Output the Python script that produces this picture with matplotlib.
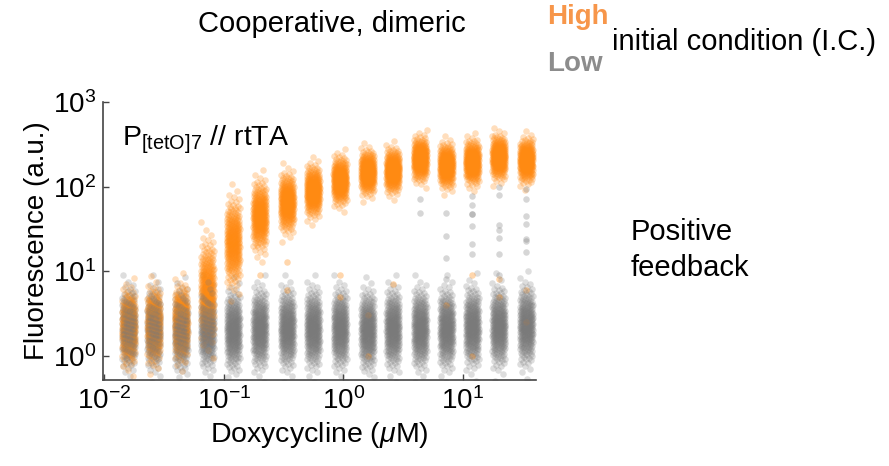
import numpy as np
import matplotlib; matplotlib.use("Agg")
import matplotlib.pyplot as plt
from matplotlib.ticker import LogLocator, NullLocator
from statistics import NormalDist

# doxycycline doses (uM), one jittered column of cells per dose
doses = [0.016, 0.026, 0.044, 0.073, 0.12, 0.20, 0.34, 0.56, 0.94,
         1.6, 2.6, 4.4, 7.3, 12, 20, 34]
# High initial condition: median fluorescence and log10 spread per dose
high_median = [2.2, 2.3, 2.5, 6.0, 22, 45, 65, 89, 118, 148, 155, 213, 178, 195, 224, 204]
high_spread = [0.20, 0.20, 0.20, 0.28, 0.24, 0.19, 0.16, 0.14, 0.13, 0.12, 0.12,
               0.12, 0.12, 0.12, 0.12, 0.12]
# Low initial condition
low_median = [2.1, 2.1, 2.0, 2.1, 2.0, 2.1, 2.1, 2.1, 2.1, 2.0, 2.1, 2.1, 2.1, 2.2, 2.2, 2.3]
low_spread = [0.22] * 16
# sparse cells away from their population (dose index, fluorescence)
low_outliers = [(11, 71), (11, 49), (12, 49), (12, 26), (12, 14.5), (12, 8),
                (13, 78), (13, 60), (13, 47), (13, 47), (13, 34), (13, 21), (13, 16),
                (14, 100), (14, 80), (14, 35), (14, 31), (14, 25), (14, 16), (14, 9),
                (15, 95), (15, 72), (15, 45), (15, 36), (15, 24), (15, 23), (15, 17)]
high_outliers = [(5, 9), (6, 13), (6, 6), (8, 9), (8, 5), (9, 3), (9, 1.0), (10, 7),
                 (12, 4), (13, 9), (13, 1.0), (14, 8), (14, 5), (15, 6), (15, 2.5)]
n_cells = 260

ORANGE, GRAY = "#ff8a12", "#7a7a7a"

plt.rcParams["font.family"] = ["Liberation Sans", "DejaVu Sans"]
plt.rcParams["mathtext.fontset"] = "custom"
plt.rcParams["mathtext.rm"] = "Liberation Sans"
plt.rcParams["mathtext.it"] = "Liberation Sans:italic"


def cloud(dose, median, spread, k):
    # spread cells over normal quantiles, jittered sideways in log-x
    q = (np.arange(n_cells) + 0.5) / n_cells
    z = np.array([NormalDist().inv_cdf(v) for v in q])
    u = ((np.arange(n_cells) * 0.6180339887 + 0.37 * k) % 1.0) * 2 - 1
    return dose * 10 ** (0.055 * u), median * 10 ** (spread * z)


fig = plt.figure(figsize=(8.89, 4.66), dpi=100)
ax = fig.add_axes([0.116, 0.185, 0.487, 0.596])

low = [cloud(d, low_median[k], low_spread[k], k) for k, d in enumerate(doses)]
# most low cells under the high ones, a third on top, so both show through
for x, y in low:
    keep = np.arange(n_cells) % 3 != 0
    ax.scatter(x[keep], y[keep], s=22, color=GRAY, alpha=0.25, lw=0)
for k, d in enumerate(doses):
    x, y = cloud(d, high_median[k], high_spread[k], k + 5)
    ax.scatter(x, y, s=22, color=ORANGE, alpha=0.28, lw=0)
ox = [doses[i] for i, _ in high_outliers]
oy = [v for _, v in high_outliers]
ax.scatter(ox, oy, s=22, color=ORANGE, alpha=0.35, lw=0)
for x, y in low:
    ax.scatter(x[::3], y[::3], s=22, color=GRAY, alpha=0.25, lw=0)
ox = [doses[i] for i, _ in low_outliers]
oy = [v for _, v in low_outliers]
ax.scatter(ox, oy, s=22, color=GRAY, alpha=0.3, lw=0)

ax.set_xscale("log"); ax.set_yscale("log")
ax.set_xlim(0.0098, 41); ax.set_ylim(0.52, 1000)
ax.xaxis.set_major_locator(LogLocator(base=10, numticks=10))
ax.yaxis.set_major_locator(LogLocator(base=10, numticks=10))
ax.xaxis.set_minor_locator(NullLocator()); ax.yaxis.set_minor_locator(NullLocator())
for s in ("top", "right"):
    ax.spines[s].set_visible(False)
for s in ("left", "bottom"):
    ax.spines[s].set_color("#444444"); ax.spines[s].set_linewidth(1.2)
ax.tick_params(direction="in", length=4, width=1, colors="#444444",
               labelcolor="black", labelsize=20, pad=5)
ax.set_xlabel(r"Doxycycline ($\mu$M)", fontsize=20.5, labelpad=4)
ax.set_ylabel("Fluorescence (a.u.)", fontsize=20, labelpad=2)

fig.text(0.137, 0.70, r"P$_{\mathregular{[tetO]7}}$ // rtTA", fontsize=20.5, va="center")
fig.text(0.223, 0.948, "Cooperative, dimeric", fontsize=21, va="center")
fig.text(0.615, 0.9635, "High", fontsize=20, weight="bold", color="#f7964a", va="center")
fig.text(0.615, 0.863, "Low", fontsize=20, weight="bold", color="#8c8c8c", va="center")
fig.text(0.688, 0.91, "initial condition (I.C.)", fontsize=21, va="center")
fig.text(0.709, 0.4635, "Positive\nfeedback", fontsize=21, va="center", linespacing=1.35)

fig.savefig("out.png", dpi=100)
